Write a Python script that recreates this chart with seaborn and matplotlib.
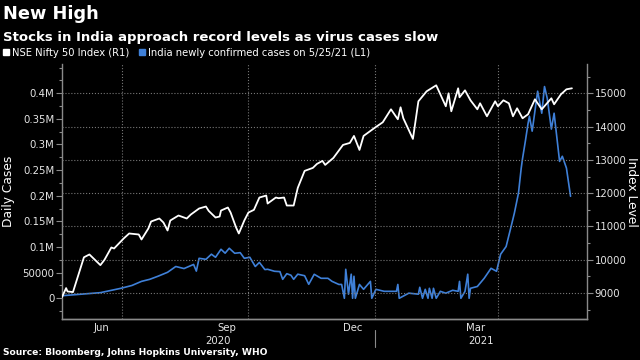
import pandas as pd
import matplotlib
matplotlib.use("Agg")
import matplotlib.pyplot as plt
import matplotlib.dates as mdates
import matplotlib.transforms as mtransforms
from matplotlib.ticker import FuncFormatter, MultipleLocator, FixedLocator
from matplotlib.lines import Line2D
import seaborn as sns

# %%
# Values

nifty_dates = [
    "2020-05-18", "2020-05-21", "2020-05-22", "2020-05-26", "2020-06-03", "2020-06-07",
    "2020-06-15", "2020-06-18", "2020-06-23", "2020-06-25", "2020-07-02", "2020-07-06",
    "2020-07-13", "2020-07-15", "2020-07-20", "2020-07-22", "2020-07-28", "2020-07-31",
    "2020-08-03", "2020-08-05", "2020-08-11", "2020-08-17", "2020-08-20", "2020-08-26",
    "2020-08-31", "2020-09-02", "2020-09-07", "2020-09-10", "2020-09-11", "2020-09-16",
    "2020-09-18", "2020-09-22", "2020-09-24", "2020-09-28", "2020-10-01", "2020-10-05",
    "2020-10-09", "2020-10-14", "2020-10-15", "2020-10-21", "2020-10-23", "2020-10-27",
    "2020-10-29", "2020-11-03", "2020-11-06", "2020-11-11", "2020-11-17", "2020-11-20",
    "2020-11-24", "2020-11-26", "2020-12-02", "2020-12-09", "2020-12-14", "2020-12-17",
    "2020-12-21", "2020-12-24", "2021-01-01", "2021-01-07", "2021-01-13", "2021-01-18",
    "2021-01-20", "2021-01-22", "2021-01-29", "2021-02-02", "2021-02-08", "2021-02-15",
    "2021-02-22", "2021-02-24", "2021-02-26", "2021-03-03", "2021-03-04", "2021-03-08",
    "2021-03-12", "2021-03-17", "2021-03-19", "2021-03-24", "2021-03-30", "2021-04-01",
    "2021-04-05", "2021-04-09", "2021-04-12", "2021-04-15", "2021-04-19", "2021-04-23",
    "2021-04-28", "2021-05-03", "2021-05-10", "2021-05-12", "2021-05-17", "2021-05-21",
    "2021-05-25",
]
nifty_values = [
    8880, 9150, 9050, 9030, 10075, 10160,
    9840, 10000, 10370, 10340, 10640, 10790,
    10760, 10610, 10940, 11150, 11240, 11120,
    10880, 11180, 11330, 11240, 11360, 11540,
    11600, 11470, 11270, 11300, 11480, 11570,
    11420, 10970, 10790, 11180, 11420, 11500,
    11870, 11930, 11690, 11870, 11850, 11870,
    11630, 11630, 12160, 12670, 12760, 12880,
    12970, 12850, 13060, 13450, 13510, 13720,
    13300, 13720, 13960, 14130, 14520, 14220,
    14580, 14250, 13630, 14760, 15060, 15240,
    14610, 15000, 14460, 15150, 14880, 15090,
    14790, 14520, 14700, 14310, 14760, 14610,
    14790, 14700, 14310, 14550, 14250, 14370,
    14820, 14520, 14850, 14670, 14970, 15120,
    15150,
]

case_dates = [
    "2020-05-18", "2020-06-01", "2020-06-15", "2020-06-30", "2020-07-08", "2020-07-15",
    "2020-07-21", "2020-07-27", "2020-08-03", "2020-08-09", "2020-08-15", "2020-08-22",
    "2020-08-24", "2020-08-26", "2020-08-31", "2020-09-04", "2020-09-07", "2020-09-11",
    "2020-09-14", "2020-09-17", "2020-09-21", "2020-09-25", "2020-09-28", "2020-10-02",
    "2020-10-06", "2020-10-09", "2020-10-13", "2020-10-15", "2020-10-20", "2020-10-24",
    "2020-10-26", "2020-10-29", "2020-11-01", "2020-11-03", "2020-11-06", "2020-11-11",
    "2020-11-14", "2020-11-18", "2020-11-23", "2020-11-28", "2020-12-01", "2020-12-06",
    "2020-12-08", "2020-12-10", "2020-12-11", "2020-12-13", "2020-12-15", "2020-12-16",
    "2020-12-17", "2020-12-18", "2020-12-21", "2020-12-24", "2020-12-29", "2020-12-30",
    "2021-01-02", "2021-01-08", "2021-01-17", "2021-01-18", "2021-01-19", "2021-01-26",
    "2021-02-02", "2021-02-03", "2021-02-05", "2021-02-07", "2021-02-09", "2021-02-10",
    "2021-02-12", "2021-02-13", "2021-02-15", "2021-02-18", "2021-02-22", "2021-02-27",
    "2021-03-03", "2021-03-04", "2021-03-05", "2021-03-08", "2021-03-10", "2021-03-11",
    "2021-03-12", "2021-03-17", "2021-03-22", "2021-03-27", "2021-03-31", "2021-04-03",
    "2021-04-07", "2021-04-11", "2021-04-13", "2021-04-16", "2021-04-18", "2021-04-19",
    "2021-04-21", "2021-04-23", "2021-04-24", "2021-04-26", "2021-04-28", "2021-04-30",
    "2021-05-03", "2021-05-05", "2021-05-07", "2021-05-10", "2021-05-12", "2021-05-16",
    "2021-05-18", "2021-05-21", "2021-05-24",
]
case_values = [
    5000, 8000, 11000, 19500, 25000, 33000,
    37000, 43000, 50700, 62000, 58000, 66000,
    53000, 78000, 76000, 86000, 80000, 95600,
    88000, 97600, 87800, 89000, 78000, 80000,
    62000, 70000, 56000, 56600, 52700, 52000,
    37000, 48000, 45000, 37000, 47000, 44000,
    27300, 46800, 39000, 39000, 33000, 27000,
    27000, 0, 56600, 8000, 47000, 0,
    43000, 0, 27000, 17500, 33000, 0,
    17500, 13600, 13600, 27000, 0, 10000,
    8000, 21500, 0, 17500, 0, 19500,
    0, 19500, 0, 13600, 10000, 15600,
    13600, 33000, 0, 13600, 47000, 0,
    19500, 23000, 39000, 58500, 52700, 86000,
    101000, 144000, 166000, 205000, 253600, 273000,
    306000, 341000, 355000, 326000, 365000, 404000,
    361000, 413000, 390000, 330000, 361000, 267000,
    277000, 254000, 199000,
]

case_ticks = [0, 50000, 100000, 150000, 200000, 250000, 300000, 350000, 400000]
month_labels = ["Jun", "Sep", "Dec", "Mar"]
month_label_dates = ["2020-06-16", "2020-09-15", "2020-12-16", "2021-03-16"]
year_labels = ["2020", "2021"]
quarter_starts = ["2020-07-01", "2020-10-01", "2021-01-01", "2021-04-01"]

nifty = pd.DataFrame({"date": pd.to_datetime(nifty_dates), "index": nifty_values})
cases = pd.DataFrame({"date": pd.to_datetime(case_dates), "cases": case_values})

# %%
sns.set_theme(style="dark", rc={
    "figure.facecolor": "black", "axes.facecolor": "black",
    "axes.edgecolor": "#8a8a8a", "text.color": "white",
    "xtick.color": "#8a8a8a", "ytick.color": "#8a8a8a",
    "xtick.labelcolor": "#e6e6e6", "ytick.labelcolor": "#e6e6e6",
    "axes.labelcolor": "white",
})
plt.rcParams["font.family"] = ["DejaVu Sans"]

fig = plt.figure(figsize=(6.4, 3.6), dpi=100)
ax = fig.add_axes([62 / 640, 1 - 319 / 360, 525 / 640, 255 / 360])
ax2 = ax.twinx()

blue = "#3f80d8"
sns.lineplot(data=cases, x="date", y="cases", ax=ax, color=blue, linewidth=1.2)
sns.lineplot(data=nifty, x="date", y="index", ax=ax2, color="white", linewidth=1.3)

x0, x1 = pd.Timestamp("2020-05-18"), pd.Timestamp("2021-06-05")
ax.set_xlim(x0, x1)
ax.set_ylim(-40400, 457000)
ax2.set_ylim(8222, 15880)

# left axis: daily cases
ax.yaxis.set_major_locator(FixedLocator(case_ticks))
ax.yaxis.set_minor_locator(MultipleLocator(25000))
def fmt_cases(v, pos):
    if abs(v) < 1:
        return "0"
    if v < 100000:
        return f"{v:.0f}"
    return f"{v / 1e6:g}M"
ax.yaxis.set_major_formatter(FuncFormatter(fmt_cases))
ax.set_ylabel("Daily Cases", fontsize=8.8, va="center")
ax.yaxis.set_label_coords(-0.101, 0.5)

# right axis: index level
ax2.yaxis.set_major_locator(MultipleLocator(1000))
ax2.yaxis.set_minor_locator(MultipleLocator(500))
ax2.set_ylabel("Index Level", fontsize=8.8, rotation=-90, va="center")
ax2.yaxis.set_label_coords(1.085, 0.5)

for a in (ax, ax2):
    a.tick_params(axis="y", which="major", length=4, width=0.8, labelsize=7.3, pad=1.5)
    a.tick_params(axis="y", which="minor", length=2.5, width=0.8)
    a.spines["top"].set_visible(False)
    for s in ("left", "right", "bottom"):
        a.spines[s].set_color("#8a8a8a")
        a.spines[s].set_linewidth(1)
ax.spines["right"].set_visible(False)
ax2.spines["left"].set_visible(False)

# x axis: month ticks, mid-month labels, year labels
ax.xaxis.set_major_locator(mdates.MonthLocator())
ax.xaxis.set_major_formatter(FuncFormatter(lambda v, p: ""))
ax.set_xticks(pd.to_datetime(month_label_dates), month_labels, minor=True)
ax.tick_params(axis="x", which="major", length=3, width=0.8)
ax.tick_params(axis="x", which="minor", length=0, labelsize=7.3, pad=3)
ax.set_xlabel("")
ax2.set_xlabel("")

trans = mtransforms.blended_transform_factory(ax.transData, ax.transAxes)
year_start = pd.Timestamp("2021-01-01")
spans = [(x0, year_start), (year_start, x1)]
for label, (a0, a1) in zip(year_labels, spans):
    ax.text(a0 + (a1 - a0) / 2, -0.086, label, transform=trans, ha="center", va="center",
            fontsize=7.3, color="#e6e6e6")
ax.plot([year_start, year_start], [-0.045, -0.11], transform=trans, color="#8a8a8a",
        linewidth=0.8, clip_on=False)

# grid
ax2.yaxis.grid(True, which="major", linestyle=":", color="#777777", linewidth=0.8)
for d in quarter_starts:
    ax2.axvline(pd.Timestamp(d), linestyle=":", color="#777777", linewidth=0.8, zorder=0.5)
ax.grid(False)
ax2.set_axisbelow(True)

# titles, legend, source
fig.text(0.004, 0.962, "New High", fontsize=12.8, weight="bold", va="center")
fig.text(0.004, 0.895, "Stocks in India approach record levels as virus cases slow",
         fontsize=9.5, weight="bold", va="center")
handles = [
    Line2D([], [], linestyle="", marker="s", markersize=4.5, color="white"),
    Line2D([], [], linestyle="", marker="s", markersize=4.5, color=blue),
]
fig.legend(handles, ["NSE Nifty 50 Index (R1)", "India newly confirmed cases on 5/25/21 (L1)"],
           loc="center left", bbox_to_anchor=(0.0, 0.853), ncol=2, frameon=False,
           fontsize=7.2, handlelength=0.6, handletextpad=0.3, columnspacing=1.0,
           borderpad=0, borderaxespad=0.3, labelcolor="white")
fig.text(0.004, 0.022, "Source: Bloomberg, Johns Hopkins University, WHO",
         fontsize=6.6, weight="bold", va="center")

fig.savefig("out.png", dpi=100, facecolor="black")
